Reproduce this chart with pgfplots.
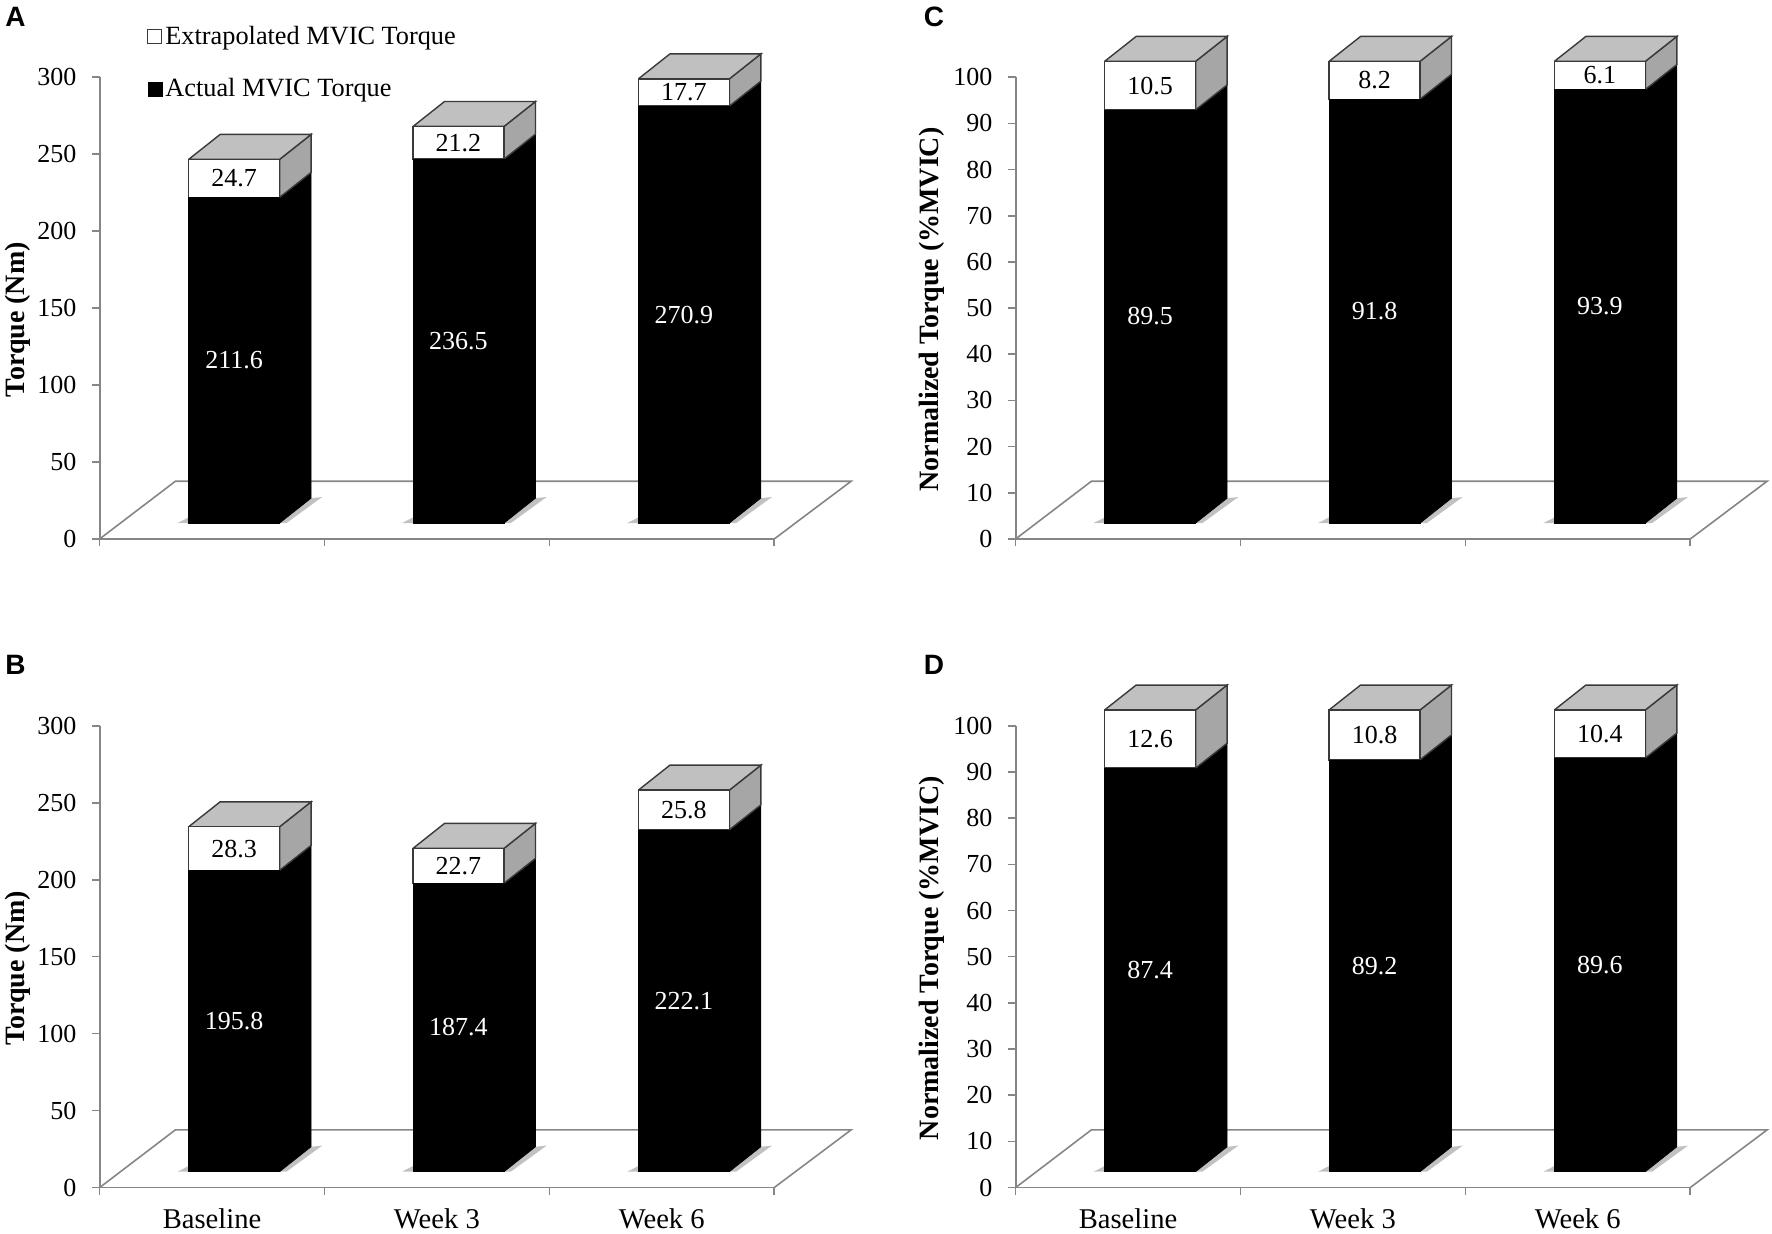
\documentclass[border=0pt]{standalone}
\usepackage{pgfplots}
\usepackage{pgfplotstable}
\usepackage{fontspec}
\pgfplotsset{compat=1.18}
\setmainfont{Liberation Serif}
\newfontfamily\panelfont{Liberation Sans}
\newcommand\tf{\fontsize{13}{15}\selectfont}
\definecolor{axgray}{HTML}{868686}
\definecolor{topgray}{HTML}{C0C0C0}
\definecolor{sidegray}{HTML}{A6A6A6}
\definecolor{edge}{HTML}{3A3A3A}

\pgfplotstableread{
x actual extra
0.598 211.6 24.7
1.596 236.5 21.2
2.598 270.9 17.7
}\tableA
\pgfplotstableread{
x actual extra
0.598 195.8 28.3
1.596 187.4 22.7
2.598 222.1 25.8
}\tableB
\pgfplotstableread{
x actual extra
0.598 89.5 10.5
1.596 91.8 8.2
2.598 93.9 6.1
}\tableC
\pgfplotstableread{
x actual extra
0.598 87.4 12.6
1.596 89.2 10.8
2.598 89.6 10.4
}\tableD

\pgfplotsset{
  common/.style={scale only axis,width=337.3pt,height=230.9pt,xmin=0,xmax=3,
    clip=false,anchor=south west},
  nm/.style={ymin=-10.3,ymax=289.7,
    ytick={-10.3,39.7,89.7,139.7,189.7,239.7,289.7},
    yticklabels={0,50,100,150,200,250,300}},
  pct/.style={ymin=-3.43,ymax=96.57,
    ytick={-3.43,6.57,16.57,26.57,36.57,46.57,56.57,66.57,76.57,86.57,96.57},
    yticklabels={0,10,20,30,40,50,60,70,80,90,100}},
  face axis/.style={common,axis y line=left,axis x line=bottom,
    axis line style={axgray,line width=0.9pt,-},
    tick style={axgray,line width=0.8pt},tick align=outside,major tick length=3.6pt,
    xtick={0,1,2,3},xticklabels={},
    tick label style={font=\tf},
    yticklabel style={xshift=-4.5pt},
    ylabel style={font=\fontsize{14}{16}\selectfont\bfseries,anchor=center,
      at={(axis description cs:-0.122,0.475)}}},
  pct label/.style={ylabel style={at={(axis description cs:-0.1236,0.497)}}},
  bottom labels/.style={extra x ticks={0.5,1.5,2.5},
    extra x tick labels={Baseline,Week 3,Week 6},
    extra x tick style={tick style={draw=none},
      tick label style={font=\fontsize{14.3}{16}\selectfont,yshift=-3.2pt}}},
  bar axis/.style={common,hide axis,ybar stacked,bar width=0.4045},
  label axis/.style={common,hide axis},
  blackbar/.style={fill=black,draw=black,line width=0.3pt},
  whitebar/.style={fill=white,draw=edge,line width=0.7pt},
}

% side and top faces of one 3-D bar: left x, actual, extrapolated, depth in y units
\newcommand{\threed}[4]{%
  \pgfmathsetmacro\xl{#1}\pgfmathsetmacro\xr{#1+0.4045}%
  \pgfmathsetmacro\xlb{#1+0.14}\pgfmathsetmacro\xrb{#1+0.4045+0.14}%
  \pgfmathsetmacro\ya{#2}\pgfmathsetmacro\yt{#2+#3}%
  \pgfmathsetmacro\yab{#2+#4}\pgfmathsetmacro\ytb{#2+#3+#4}%
  \pgfmathsetmacro\dy{#4}\pgfmathsetmacro\sh{0.23*#4}\pgfmathsetmacro\shr{0.05*#4}%
  \pgfmathsetmacro\xs{#1-0.05}\pgfmathsetmacro\xsb{#1+0.4045+0.14+0.05}%
  \pgfmathsetmacro\xsf{#1+0.4045+0.03}\pgfmathsetmacro\dyy{#4+0.05*#4}%
  \addplot[fill=gray!60,draw=none,fill opacity=0.8] coordinates {(\xs,0) (\xl,\sh) (\xl,0) (\xs,0)};
  \addplot[fill=gray!60,draw=none,fill opacity=0.8] coordinates {(\xr,0) (\xrb,\dy) (\xsb,\dyy) (\xsf,0) (\xr,0)};
  \addplot[fill=black,draw=black,line width=0.3pt] coordinates {(\xr,0) (\xrb,\dy) (\xrb,\yab) (\xr,\ya) (\xr,0)};
  \addplot[fill=sidegray,draw=edge,line width=0.7pt] coordinates {(\xr,\ya) (\xrb,\yab) (\xrb,\ytb) (\xr,\yt) (\xr,\ya)};
  \addplot[fill=topgray,draw=edge,line width=0.7pt] coordinates {(\xl,\yt) (\xr,\yt) (\xrb,\ytb) (\xlb,\ytb) (\xl,\yt)};
}

\begin{document}
\begin{tikzpicture}
\path[use as bounding box] (0,0) rectangle (886pt,617pt);

% ---------- A ----------
\begin{axis}[face axis,nm,at={(49.8pt,347.5pt)},ylabel={Torque (Nm)}]
  \addplot[axgray,line width=0.8pt] coordinates {(0,-10.3) (0.337,27.2) (3.342,27.2) (3,-10.3)};
  \threed{0.396}{211.6}{24.7}{16.2}
  \threed{1.394}{236.5}{21.2}{16.2}
  \threed{2.396}{270.9}{17.7}{16.2}
\end{axis}
\begin{axis}[bar axis,nm,at={(49.8pt,347.5pt)},
    legend style={draw=none,fill=none,at={(0.07,1.118)},anchor=north west,
      font=\fontsize{13.15}{15}\selectfont,row sep=12.5pt,inner sep=0pt,nodes={inner sep=1.5pt}},
    reverse legend,legend cell align=left]
  \addplot[blackbar,legend image code/.code={\draw[fill=black,draw=black] (0pt,-3.5pt) rectangle (7pt,3.5pt);}] table[x=x,y=actual] {\tableA};
  \addlegendentry{Actual MVIC Torque}
  \addplot[whitebar,legend image code/.code={\draw[fill=white,draw=edge,line width=0.6pt] (0pt,-3.5pt) rectangle (7pt,3.5pt);}] table[x=x,y=extra] {\tableA};
  \addlegendentry{Extrapolated MVIC Torque}
\end{axis}
\begin{axis}[label axis,nm,at={(49.8pt,347.5pt)}]
  \node[white,font=\tf] at (axis cs:0.598,105.8) {211.6};
  \node[white,font=\tf] at (axis cs:1.596,118.25) {236.5};
  \node[white,font=\tf] at (axis cs:2.598,135.45) {270.9};
  \node[font=\tf] at (axis cs:0.598,223.95) {24.7};
  \node[font=\tf] at (axis cs:1.596,247.1) {21.2};
  \node[font=\tf] at (axis cs:2.598,279.75) {17.7};
\end{axis}

% ---------- B ----------
\begin{axis}[face axis,nm,bottom labels,at={(49.8pt,23.2pt)},ylabel={Torque (Nm)}]
  \addplot[axgray,line width=0.8pt] coordinates {(0,-10.3) (0.337,27.2) (3.342,27.2) (3,-10.3)};
  \threed{0.396}{195.8}{28.3}{16.2}
  \threed{1.394}{187.4}{22.7}{16.2}
  \threed{2.396}{222.1}{25.8}{16.2}
\end{axis}
\begin{axis}[bar axis,nm,at={(49.8pt,23.2pt)}]
  \addplot[blackbar] table[x=x,y=actual] {\tableB};
  \addplot[whitebar] table[x=x,y=extra] {\tableB};
\end{axis}
\begin{axis}[label axis,nm,at={(49.8pt,23.2pt)}]
  \node[white,font=\tf] at (axis cs:0.598,97.9) {195.8};
  \node[white,font=\tf] at (axis cs:1.596,93.7) {187.4};
  \node[white,font=\tf] at (axis cs:2.598,111.05) {222.1};
  \node[font=\tf] at (axis cs:0.598,209.95) {28.3};
  \node[font=\tf] at (axis cs:1.596,198.75) {22.7};
  \node[font=\tf] at (axis cs:2.598,235) {25.8};
\end{axis}

% ---------- C ----------
\begin{axis}[face axis,pct,pct label,at={(507.8pt,347.5pt)},ylabel={Normalized Torque (\%MVIC)}]
  \addplot[axgray,line width=0.8pt] coordinates {(0,-3.43) (0.337,9.07) (3.342,9.07) (3,-3.43)};
  \threed{0.396}{89.5}{10.5}{5.39}
  \threed{1.394}{91.8}{8.2}{5.39}
  \threed{2.396}{93.9}{6.1}{5.39}
\end{axis}
\begin{axis}[bar axis,pct,at={(507.8pt,347.5pt)}]
  \addplot[blackbar] table[x=x,y=actual] {\tableC};
  \addplot[whitebar] table[x=x,y=extra] {\tableC};
\end{axis}
\begin{axis}[label axis,pct,at={(507.8pt,347.5pt)}]
  \node[white,font=\tf] at (axis cs:0.598,44.75) {89.5};
  \node[white,font=\tf] at (axis cs:1.596,45.9) {91.8};
  \node[white,font=\tf] at (axis cs:2.598,46.95) {93.9};
  \node[font=\tf] at (axis cs:0.598,94.75) {10.5};
  \node[font=\tf] at (axis cs:1.596,95.9) {8.2};
  \node[font=\tf] at (axis cs:2.598,96.95) {6.1};
\end{axis}

% ---------- D ----------
\begin{axis}[face axis,pct,pct label,bottom labels,at={(507.8pt,23.2pt)},ylabel={Normalized Torque (\%MVIC)}]
  \addplot[axgray,line width=0.8pt] coordinates {(0,-3.43) (0.337,9.07) (3.342,9.07) (3,-3.43)};
  \threed{0.396}{87.4}{12.6}{5.39}
  \threed{1.394}{89.2}{10.8}{5.39}
  \threed{2.396}{89.6}{10.4}{5.39}
\end{axis}
\begin{axis}[bar axis,pct,at={(507.8pt,23.2pt)}]
  \addplot[blackbar] table[x=x,y=actual] {\tableD};
  \addplot[whitebar] table[x=x,y=extra] {\tableD};
\end{axis}
\begin{axis}[label axis,pct,at={(507.8pt,23.2pt)}]
  \node[white,font=\tf] at (axis cs:0.598,43.7) {87.4};
  \node[white,font=\tf] at (axis cs:1.596,44.6) {89.2};
  \node[white,font=\tf] at (axis cs:2.598,44.8) {89.6};
  \node[font=\tf] at (axis cs:0.598,93.7) {12.6};
  \node[font=\tf] at (axis cs:1.596,94.6) {10.8};
  \node[font=\tf] at (axis cs:2.598,94.8) {10.4};
\end{axis}

\node[font=\panelfont\bfseries\fontsize{14}{16}\selectfont] at (7.8pt,608.5pt) {A};
\node[font=\panelfont\bfseries\fontsize{14}{16}\selectfont] at (7.8pt,284.5pt) {B};
\node[font=\panelfont\bfseries\fontsize{14}{16}\selectfont] at (467pt,608.5pt) {C};
\node[font=\panelfont\bfseries\fontsize{14}{16}\selectfont] at (467pt,284.5pt) {D};
\end{tikzpicture}
\end{document}
